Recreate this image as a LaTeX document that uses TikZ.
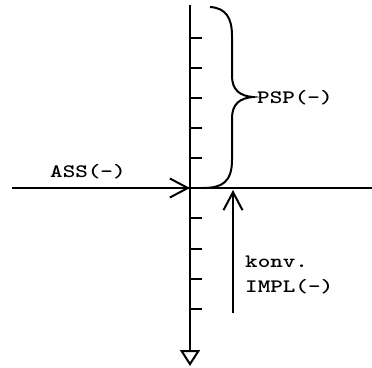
\documentclass[tikz,border=0pt]{standalone}
\usepackage{graphicx}
\usetikzlibrary{arrows.meta}
\newcommand\twtext[1]{\scalebox{1.26}[1]{\fontsize{19}{21}\selectfont\ttfamily\bfseries #1}}
\tikzset{
  ln/.style={line width=2pt},
  lbl/.style={inner sep=0pt, anchor=base west},
  barb/.style={-{Straight Barb[length=18pt,width=19pt,line width=2pt]}},
}
\begin{document}
\begin{tikzpicture}[x=1pt,y=-1pt]
\useasboundingbox (0,0) rectangle (372,367);
% key points
\coordinate (O) at (190,188);
\coordinate (Vtop) at (190,5);
\coordinate (Vbot) at (190,366);
\coordinate (Hl) at (12,188);
\coordinate (Hr) at (372,188);
\coordinate (Ab) at (233,313);
\coordinate (At) at (233,190);
% vertical axis with open triangle
\draw[ln,-{Triangle[open,length=16pt,width=20pt,line width=2pt]}] (Vtop) -- (Vbot);
% horizontal axis
\draw[ln] (Hl) -- (Hr);
\draw[ln,barb] (Hl) -- (O);
% ticks
\foreach \k in {1,...,5} {
  \draw[ln] (190,188-30.1*\k) -- (202,188-30.1*\k);
}
\foreach \k in {1,...,4} {
  \draw[ln] (190,188+30.3*\k) -- (202,188+30.3*\k);
}
% brace
\draw[ln] (210,7) .. controls (226,8) and (232,18) .. (232,36) -- (232,76)
  .. controls (232,90) and (240,96) .. (253,97)
  .. controls (240,98) and (232,104) .. (232,118) -- (232,160)
  .. controls (232,182) and (222,188) .. (203,188);
% upward arrow
\draw[ln,barb] (Ab) -- (At);
% labels
\node[lbl] (ass) at (50,177) {\twtext{ASS(-)}};
\node[lbl] (psp) at (257,103) {\twtext{PSP(-)}};
\node[lbl] (konv) at (245,267) {\twtext{konv.}};
\node[lbl] (impl) at (245,292) {\twtext{IMPL(-)}};
\end{tikzpicture}
\end{document}
